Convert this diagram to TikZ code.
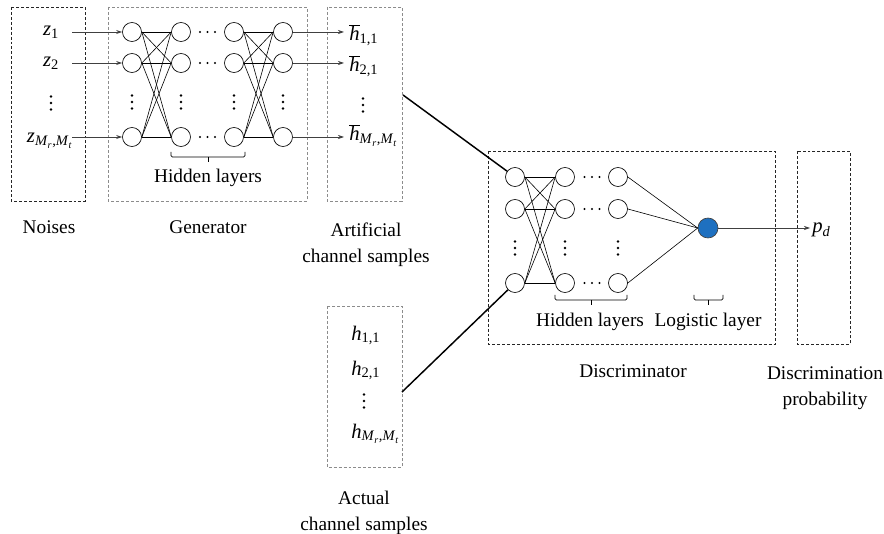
\documentclass[tikz,border=0pt]{standalone}
\usepackage{fontspec}
\setmainfont{Liberation Serif}
\usetikzlibrary{arrows.meta}

\definecolor{logblue}{RGB}{30,112,192}

\newcommand{\lowsub}[1]{\textsubscript{#1}}
\newcommand{\mrmt}{\textit{M}\lowsub{\textit{r}},\textit{M}\lowsub{\textit{t}}}
\newcommand{\hbarv}{$\overline{\mbox{\textit{h}}}$}

\tikzset{
  neuron/.style={circle, draw, line width=0.5pt, minimum size=14.25pt, inner sep=0pt, fill=white},
  outneuron/.style={neuron, fill=logblue, draw=black!75, minimum size=15pt},
  lightbox/.style={draw=black!45, line width=0.5pt, dash pattern=on 2.2pt off 1.5pt},
  darkbox/.style={draw=black!85, line width=0.6pt, dash pattern=on 2.2pt off 1.5pt},
  link/.style={line width=0.45pt},
  feed/.style={draw=black!75, -{Stealth[length=4.5pt,width=3pt]}, line width=0.5pt},
  pipe/.style={line width=1.1pt},
  lbl/.style={font=\fontsize{14.5}{19.5}\selectfont, align=center},
  var/.style={font=\fontsize{15.5}{17}\selectfont, inner sep=0pt},
  bracket/.style={line width=0.6pt, rounded corners=1pt},
  vdots/.pic={\foreach \k in {-6.5,0,6.5} \fill (0,\k) circle (1pt);},
  hdots/.pic={\foreach \k in {-7.5,0,7.5} \fill (\k,0) circle (0.85pt);},
}

\begin{document}
\begin{tikzpicture}[x=0.75pt, y=-0.75pt]
    \useasboundingbox (0,0) rectangle (884,534);

    % Boxes
    \draw[darkbox] (11,7) rectangle (85,201);
    \draw[lightbox] (108,7) rectangle (307,201);
    \draw[lightbox] (327,7) rectangle (402,201);
    \draw[lightbox] (327,306) rectangle (402,467);
    \draw[darkbox] (488,151) rectangle (775,344);
    \draw[darkbox] (797,151) rectangle (850,344);

    % Noises
    \node[var, anchor=base] (z1) at (51,36) {\textit{z}\lowsub{1}};
    \node[var, anchor=base] (z2) at (51,67) {\textit{z}\lowsub{2}};
    \pic (zv) at (51,103) {vdots};
    \node[var, anchor=base] (zn) at (50,143) {\textit{z}\lowsub{\mrmt}};

    % Generator neurons
    \foreach \c/\x in {1/132,2/181,3/234,4/283} {
        \foreach \r/\y in {1/32,2/63,3/137}
            \node[neuron] (g\c\r) at (\x,\y) {};
        \pic (gv\c) at (\x,102) {vdots};
    }
    \foreach \r/\y in {1/32,2/63,3/137}
        \pic (gh\r) at (207.5,\y) {hdots};
    \foreach \i in {1,2,3}
        \foreach \j in {1,2,3} {
            \draw[link] (g1\i.east) -- (g2\j.west);
            \draw[link] (g3\i.east) -- (g4\j.west);
        }

    % Inputs and outputs of the generator
    \foreach \r/\y in {1/32,2/63,3/137} {
        \coordinate (zin\r) at (72,\y);
        \coordinate (hin\r) at (344,\y);
        \draw[feed] (zin\r) -- (g1\r);
        \draw[feed] (g4\r) -- (hin\r);
    }

    % Artificial samples
    \node[var, anchor=base west] (hb1) at (349,41) {\hbarv\lowsub{1,1}};
    \node[var, anchor=base west] (hb2) at (349,72) {\hbarv\lowsub{2,1}};
    \pic (hbv) at (363,105) {vdots};
    \node[var, anchor=base west] (hbn) at (349,141) {\hbarv\lowsub{\mrmt}};

    % Actual samples
    \node[var, anchor=base west] (h1) at (351,340) {\textit{h}\lowsub{1,1}};
    \node[var, anchor=base west] (h2) at (351,375) {\textit{h}\lowsub{2,1}};
    \pic (hv) at (364,401) {vdots};
    \node[var, anchor=base west] (hn) at (351,438) {\textit{h}\lowsub{\mrmt}};

    % Hidden layer bracket (generator)
    \draw[bracket] (171,152) -- (171,157) -- (245,157) -- (245,152);
    \draw[bracket] (208,157) -- (208,162);
    \node[lbl] (ghid) at (208,178) {Hidden layers};

    % Discriminator neurons
    \foreach \c/\x in {1/515,2/565,3/618} {
        \foreach \r/\y in {1/177,2/209,3/283}
            \node[neuron] (d\c\r) at (\x,\y) {};
        \pic (dv\c) at (\x,248) {vdots};
    }
    \foreach \r/\y in {1/177,2/209,3/283}
        \pic (dh\r) at (592,\y) {hdots};
    \foreach \i in {1,2,3}
        \foreach \j in {1,2,3}
            \draw[link] (d1\i.east) -- (d2\j.west);
    \node[outneuron] (dout) at (708,228) {};
    \foreach \i in {1,2,3}
        \draw[link] (d3\i.east) -- (dout.west);

    % Samples into the discriminator
    \coordinate (artout) at (403,95);
    \coordinate (actout) at (402,392);
    \draw[pipe] (artout) -- (d11);
    \draw[pipe] (actout) -- (d13);

    % Output probability
    \coordinate (pin) at (810,228);
    \draw[feed] (dout) -- (pin);
    \node[var, anchor=base west] (pd) at (812,233) {\textit{p}\lowsub{\textit{d}}};

    % Brackets of the discriminator
    \draw[bracket] (555,295) -- (555,300) -- (627,300) -- (627,295);
    \draw[bracket] (591,300) -- (591,305);
    \draw[bracket] (694,295) -- (694,300) -- (723,300) -- (723,295);
    \draw[bracket] (708,300) -- (708,305);
    \node[lbl] (dhid) at (590,322) {Hidden layers};
    \node[lbl] (dlog) at (708,322) {Logistic layer};

    % Labels
    \node[lbl] (lnoise) at (49,227) {Noises};
    \node[lbl] (lgen) at (208,227) {Generator};
    \node[lbl] (lart) at (366,245) {Artificial\\channel samples};
    \node[lbl] (lact) at (364,513) {Actual\\channel samples};
    \node[lbl] (ldisc) at (633,371) {Discriminator};
    \node[lbl] (lprob) at (825,388) {Discrimination\\probability};
\end{tikzpicture}
\end{document}
